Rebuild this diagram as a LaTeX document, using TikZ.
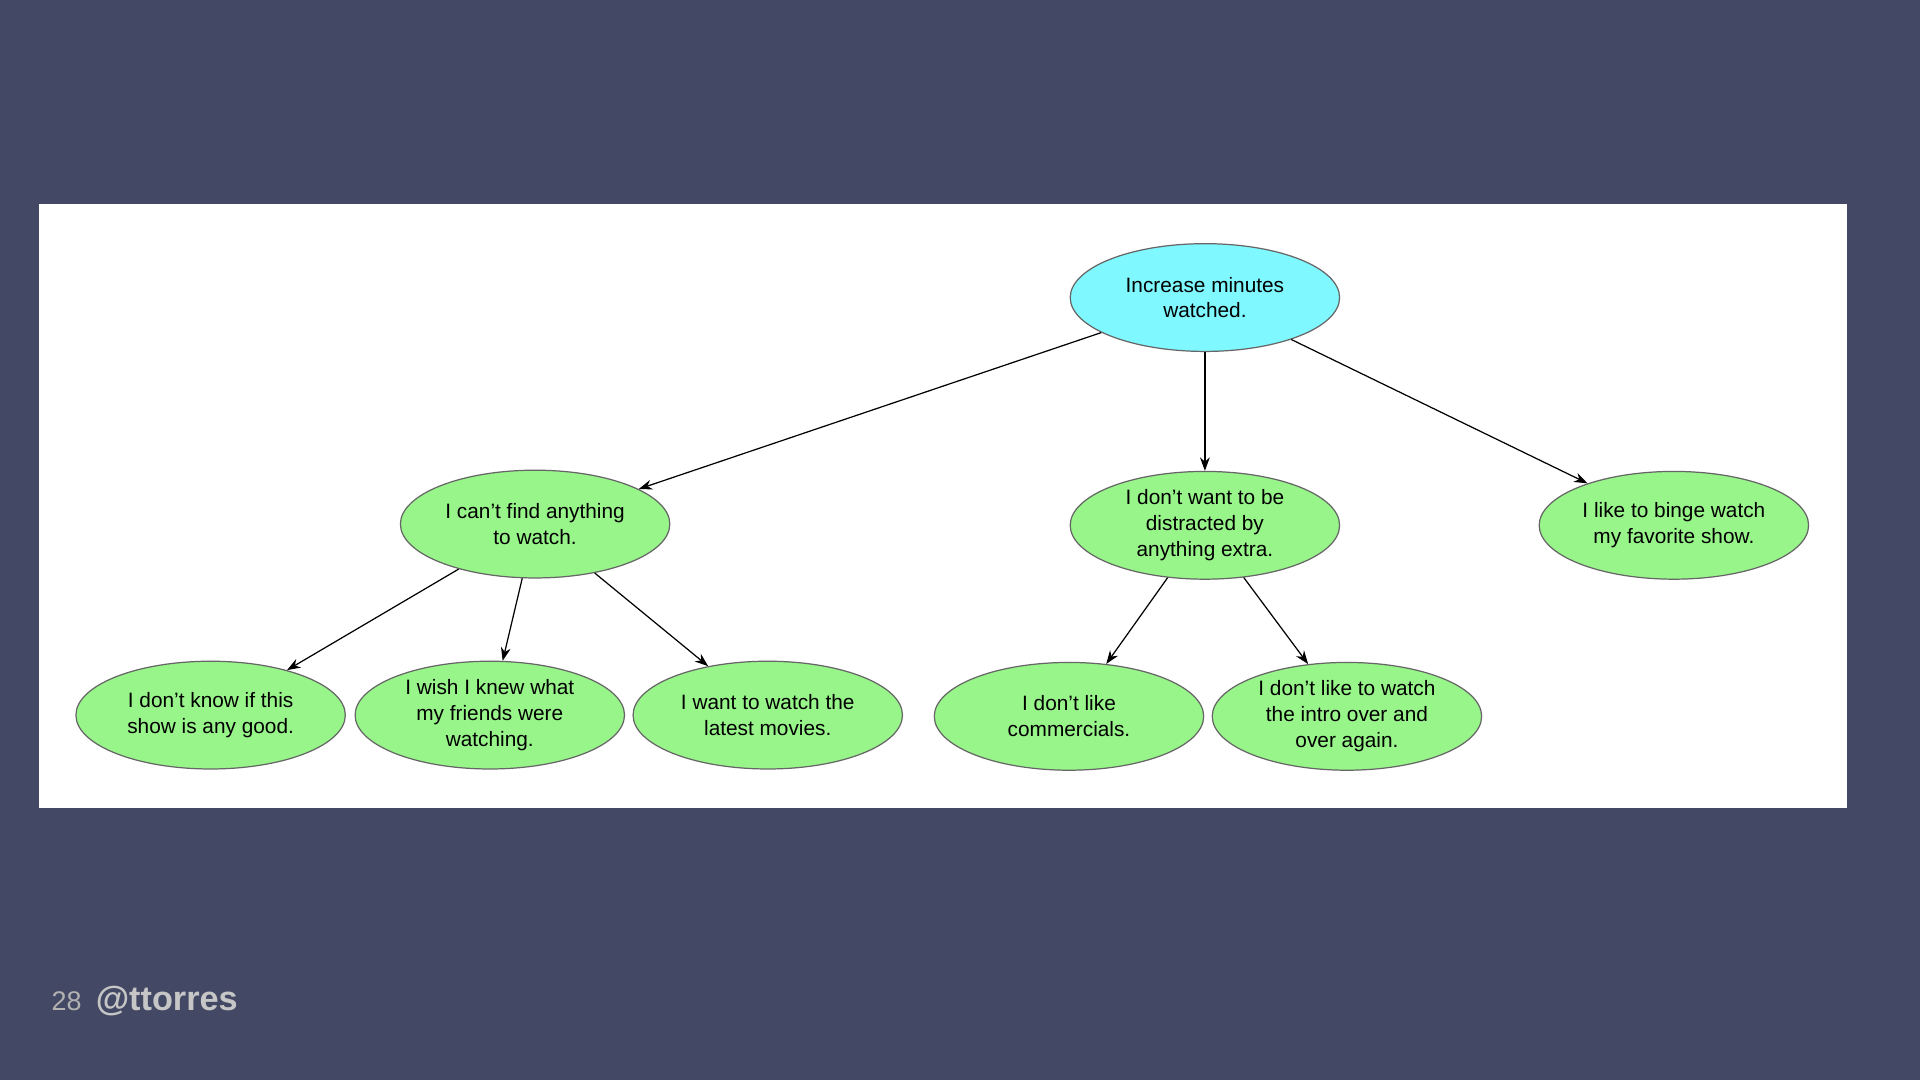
\documentclass[tikz,border=0pt]{standalone}
\usepackage{fontspec}
\setmainfont{Liberation Sans}
\usetikzlibrary{shapes.geometric,arrows.meta}
\definecolor{bg}{HTML}{434864}
\definecolor{nodegreen}{HTML}{98F58A}
\definecolor{nodecyan}{HTML}{80F8FF}
\begin{document}
\begin{tikzpicture}[x=1pt,y=-1pt,
  el/.style={ellipse,draw=gray!80!black,line width=1pt,fill=nodegreen,minimum width=220pt,minimum height=88pt,inner sep=0pt,align=center,font=\fontsize{17}{21}\selectfont},
  arr/.style={-{Stealth[length=11pt,width=8pt]},line width=1pt,black}]
\fill[bg] (0,0) rectangle (1568,882);
\useasboundingbox (0,0) rectangle (1568,882);
\fill[white] (32,167) rectangle (1508,660);
\node[el,fill=nodecyan] (r) at (984,243) {Increase minutes\\watched.};
\node[el] (a) at (437,428) {I can’t find anything\\to watch.};
\node[el] (b) at (984,429) {I don’t want to be\\distracted by\\anything extra.};
\node[el] (c) at (1367,429) {I like to binge watch\\my favorite show.};
\node[el] (a1) at (172,584) {I don’t know if this\\show is any good.};
\node[el] (a2) at (400,584) {I wish I knew what\\my friends were\\watching.};
\node[el] (a3) at (627,584) {I want to watch the\\latest movies.};
\node[el] (b1) at (873,585) {I don’t like\\commercials.};
\node[el] (b2) at (1100,585) {I don’t like to watch\\the intro over and\\over again.};
\draw[arr] (r) -- (a);
\draw[arr] (r) -- (b);
\draw[arr] (r) -- (c);
\draw[arr] (a) -- (a1);
\draw[arr] (a) -- (a2);
\draw[arr] (a) -- (a3);
\draw[arr] (b) -- (b1);
\draw[arr] (b) -- (b2);
\node[anchor=base west,inner sep=0pt,text=gray!60,font=\fontsize{22}{26}\selectfont] (pg) at (42,825) {28};
\node[anchor=base west,inner sep=0pt,text=gray!45,font=\fontsize{28}{32}\selectfont\bfseries] (tw) at (78,825) {@ttorres};
\end{tikzpicture}
\end{document}
